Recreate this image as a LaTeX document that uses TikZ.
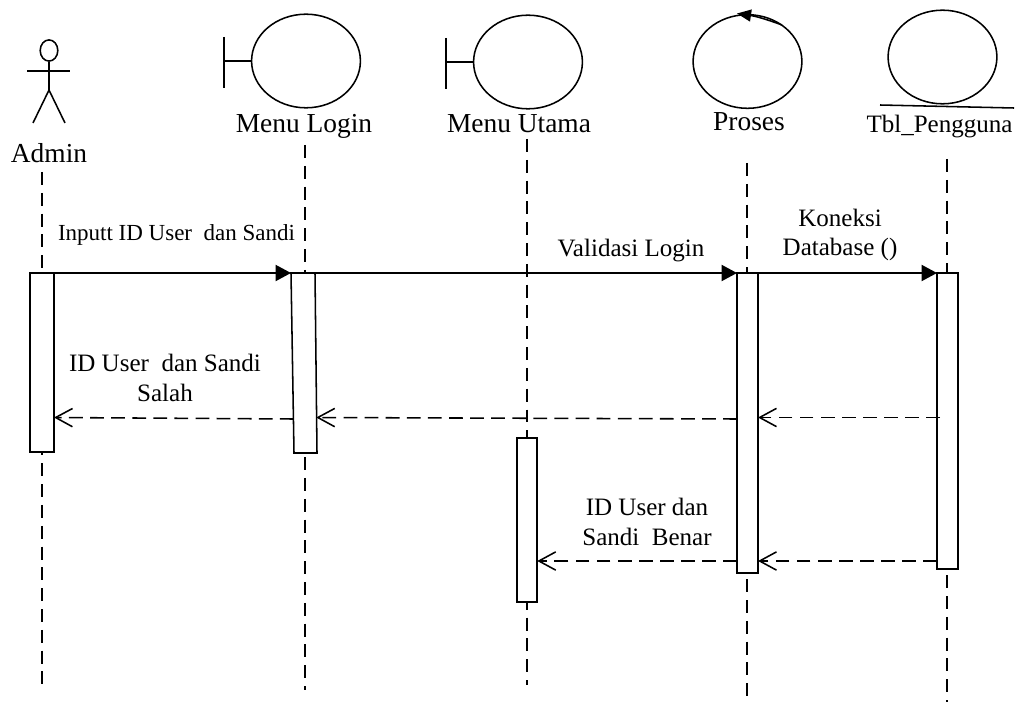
\documentclass[tikz,border=0pt]{standalone}
\usepackage{fontspec}
\setmainfont{Liberation Serif}
\usetikzlibrary{shapes.geometric,arrows.meta}

\tikzset{
  ln/.style={line width=1.1pt},
  bigtxt/.style={anchor=base,inner sep=0pt,font=\fontsize{19.5}{23}\selectfont},
  midtxt/.style={inner sep=0pt,align=center,font=\fontsize{17.8}{21.3}\selectfont},
  lifeline/.style={ln,dash pattern=on 9.2pt off 5.6pt},
  actbox/.style={ln,draw,fill=white,rectangle,inner sep=0pt,outer sep=0pt},
  entity/.style={ln,draw,ellipse,inner sep=0pt,minimum width=2.72cm,minimum height=2.34cm},
  msg/.style={ln,-{Triangle[length=11pt,width=11.5pt]}},
  reply/.style={ln,dash pattern=on 9.8pt off 5.2pt,-{Straight Barb[length=12pt,width=13pt]}}
}

\begin{document}
\begin{tikzpicture}[x=0.025cm,y=-0.025cm]
       \useasboundingbox (0,0) rectangle (1019,702);

       % actor
       \node[ln,draw,ellipse,inner sep=0pt,minimum width=0.44cm,minimum height=0.53cm] (head) at (49,50.5) {};
       \coordinate (hip) at (49,90);
       \coordinate (armL) at (27,71);
       \coordinate (armR) at (70,71);
       \coordinate (footL) at (33,123);
       \coordinate (footR) at (65,123);
       \draw[ln] (head.south) -- (hip);
       \draw[ln] (armL) -- (armR);
       \draw[ln] (footL) -- (hip) -- (footR);

       % boundary, control, entity
       \node[entity] (entLogin) at (306,61) {};
       \node[entity] (entUtama) at (528,62) {};
       \node[entity] (entProses) at (747.5,61.5) {};
       \node[entity] (entTbl) at (942.5,57) {};

       \foreach \nm/\x/\y in {Login/224/61,Utama/446/62}  {
       	\coordinate (barTop\nm) at (\x,\y-24);
       	\coordinate (barEnd\nm) at (\x,\y+27);
       	\coordinate (barMid\nm) at (\x,\y);
       	\draw[ln] (barTop\nm) -- (barEnd\nm);
       	\draw[ln] (barMid\nm) -- (ent\nm.west);
       }

       \coordinate (cycA) at (782,25);
       \coordinate (cycB) at (737,13.5);
       \draw[ln,-{Triangle[length=10pt,width=8.5pt]}] (cycA) to[bend right=6] (cycB);
       \coordinate (tblA) at (880,105);
       \coordinate (tblB) at (1014,108);
       \draw[ln] (tblA) -- (tblB);

       \node[bigtxt] (lblAdmin) at (49,163) {Admin};
       \node[bigtxt] (lblLogin) at (304,133) {Menu Login};
       \node[bigtxt] (lblUtama) at (519,133) {Menu Utama};
       \node[bigtxt] (lblProses) at (749,131) {Proses};
       \node[midtxt,anchor=base] (lblTbl) at (939.5,133) {Tbl\_Pengguna};

       % lifelines
       \foreach \nm/\x/\ya/\yb in {Admin/42/172/687,Login/305/145/690,Utama/527/139/685,Proses/747/163/702,Tbl/947/159/702}  {
       	\coordinate (top\nm) at (\x,\ya);
       	\coordinate (end\nm) at (\x,\yb);
       	\draw[lifeline] (top\nm) -- (end\nm);
       }

       % activation boxes
       \foreach \nm/\x/\w/\ya/\yb in {Admin/42/24/273/452,Utama/527/20.5/438/602,Proses/747.5/21/273/573,Tbl/947.5/21/273/569}  {
       	\node[actbox,minimum width=\w*0.025cm,minimum height={(\yb-\ya)*0.025cm}] (box\nm) at (\x,{(\ya+\yb)/2}) {};
       }
       \coordinate (loginNW) at (291,273);
       \coordinate (loginNE) at (315,273);
       \coordinate (loginSE) at (317,453);
       \coordinate (loginSW) at (294,453);
       \coordinate (loginW) at (293.7,419);
       \coordinate (loginE) at (316.2,417.5);
       \filldraw[ln,fill=white] (loginNW) -- (loginNE) -- (loginSE) -- (loginSW) -- cycle;

       % messages
       \draw[msg] (boxAdmin.north east) -- (loginNW);
       \draw[msg] (loginNE) -- (boxProses.north west);
       \draw[msg] (boxProses.north east) -- (boxTbl.north west);

       \coordinate (tblStart) at (940,417.5);
       \draw[reply] (tblStart) -- (boxProses.east |- tblStart);
       \coordinate (prsStart) at (boxProses.west |- loginW);
       \draw[reply] (prsStart) -- (loginE);
       \coordinate (admEnd) at (boxAdmin.east |- loginE);
       \draw[reply] (loginW) -- (admEnd);
       \coordinate (rowB) at (0,561);
       \draw[reply] (boxProses.west |- rowB) -- (boxUtama.east |- rowB);
       \draw[reply] (boxTbl.west |- rowB) -- (boxProses.east |- rowB);

       \node[anchor=base,inner sep=0pt,font=\fontsize{16.35}{20}\selectfont] (lblInput) at (176.5,240) {Inputt ID User\ \ dan Sandi};
       \node[midtxt,anchor=base] (lblValid) at (631,257) {Validasi Login};
       \node[midtxt] (lblKoneksi) at (840,235) {Koneksi\\Database ()};
       \node[midtxt] (lblSalah) at (165,377.5) {ID User\ \ dan Sandi\\Salah};
       \node[midtxt] (lblBenar) at (647,521.5) {ID User dan\\Sandi\ \ Benar};
\end{tikzpicture}
\end{document}
